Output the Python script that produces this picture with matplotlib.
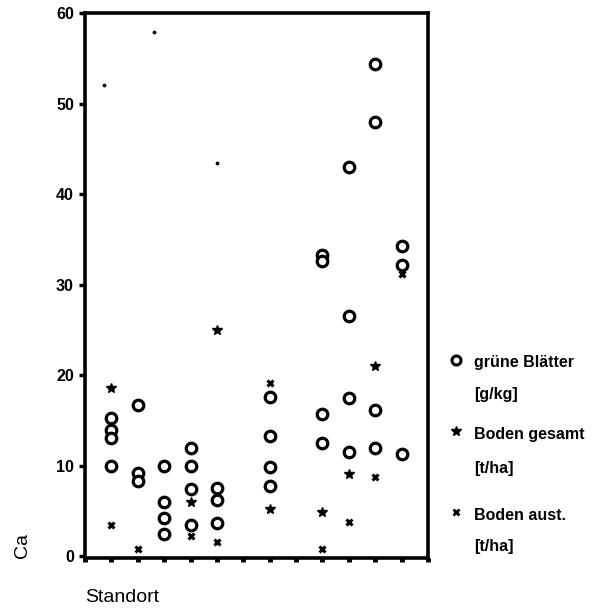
import matplotlib
matplotlib.use("Agg")
import matplotlib.pyplot as plt
from matplotlib.lines import Line2D

plt.rcParams['font.family'] = ['Liberation Sans', 'DejaVu Sans']

# --- data ---
blatt_x = [1, 1, 1, 1, 2, 2, 2, 3, 3, 3, 3, 4, 4, 4, 4, 5, 5, 5,
           7, 7, 7, 7, 9, 9, 9, 9, 10, 10, 10, 10, 11, 11, 11, 11, 12, 12, 12]
blatt_y = [15.3, 13.9, 13.1, 10.0, 16.7, 9.2, 8.3, 10.0, 6.0, 4.2, 2.5,
           11.9, 10.0, 7.4, 3.5, 7.5, 6.2, 3.7,
           17.6, 13.3, 9.8, 7.7, 33.3, 32.6, 15.7, 12.5,
           43.0, 26.5, 17.5, 11.5, 54.4, 48.0, 16.2, 12.0, 34.3, 32.2, 11.3]

gesamt_x = [1, 4, 5, 7, 9, 10, 11]
gesamt_y = [18.6, 6.0, 25.0, 5.2, 4.9, 9.1, 21.0]

aust_x = [1, 2, 4, 5, 7, 9, 10, 11, 12]
aust_y = [3.4, 0.8, 2.2, 1.6, 19.1, 0.8, 3.8, 8.8, 31.2]

stray_x = [0.72, 2.62, 5.0]
stray_y = [52.0, 57.9, 43.4]

yticks = [0, 10, 20, 30, 40, 50, 60]
xticks = list(range(0, 14))

legend_labels = [("grüne Blätter", "[g/kg]"),
                 ("Boden gesamt", "[t/ha]"),
                 ("Boden aust.", "[t/ha]")]

W, H = 610, 614
fig = plt.figure(figsize=(W / 100, H / 100), dpi=100)
ax = fig.add_axes([85 / W, 1 - 558 / H, (428 - 85) / W, (558 - 13) / H])

ax.plot(blatt_x, blatt_y, 'o', ms=7.6, mfc='white', mec='black', mew=2.3,
        linestyle='none', clip_on=False, zorder=3)
ax.plot(gesamt_x, gesamt_y, '*', ms=7.5, color='black', linestyle='none', zorder=4)
ax.plot(aust_x, aust_y, 'x', ms=4.5, mew=2.2, color='black', linestyle='none', zorder=4)
ax.plot(stray_x, stray_y, '.', ms=3.5, color='black', linestyle='none', zorder=4)

ax.set_xlim(0, 13)
ax.set_ylim(-0.2, 60)
ax.set_xticks(xticks)
ax.set_xticklabels([])
ax.set_yticks(yticks)
ax.set_yticklabels([str(t) for t in yticks], fontsize=11.5, fontweight='bold')
ax.tick_params(axis='y', direction='out', length=4, width=2.5, pad=4)
ax.tick_params(axis='x', direction='out', length=3, width=3.5)
for s in ax.spines.values():
    s.set_linewidth(2.6)

fig.text(22 / W, 1 - 545 / H, "Ca", rotation=90, fontsize=14,
         ha='center', va='center')
fig.text(85 / W, 1 - 598 / H, "Standort", fontsize=14, ha='left', va='center')

# legend (manual)
mk_x = 456 / W
tx_x = 474 / W
rows = [(363, 395), (434, 468), (515, 546)]
styles = [dict(marker='o', ms=6.5, mfc='white', mec='black', mew=2.2),
          dict(marker='*', ms=7, color='black'),
          dict(marker='x', ms=4, mew=2, color='black')]
for (l1, l2), (y1, y2), st in zip(legend_labels, rows, styles):
    fig.add_artist(Line2D([mk_x], [1 - (y1 - 3) / H], transform=fig.transFigure,
                          linestyle='none', **st))
    fig.text(tx_x, 1 - y1 / H, l1, fontsize=11.5, fontweight='bold',
             ha='left', va='center')
    fig.text(tx_x, 1 - y2 / H, l2, fontsize=11.5, fontweight='bold',
             ha='left', va='center')

fig.savefig("out.png", dpi=100)
